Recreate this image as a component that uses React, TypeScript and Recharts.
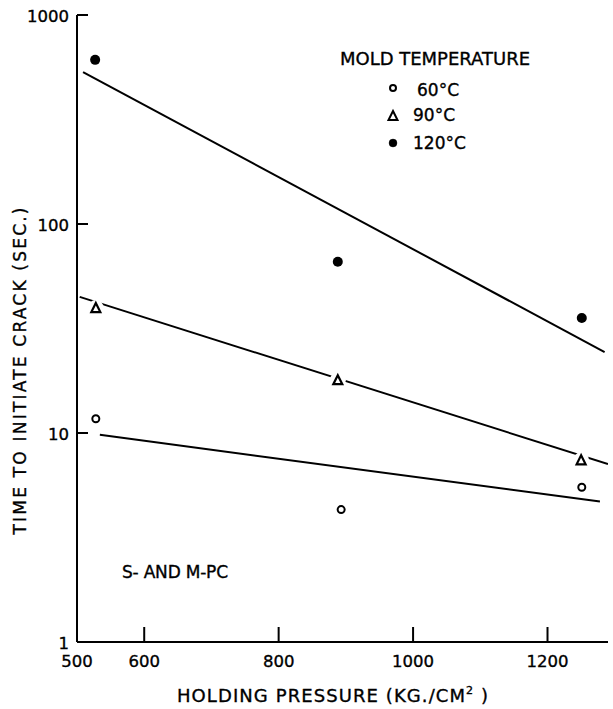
import React from 'react';
import {
  ComposedChart,
  Line,
  Scatter,
  XAxis,
  YAxis,
  Customized,
} from 'recharts';

// measured points, holding pressure vs time to crack
const pressure60 = [528, 893, 1251];
const time60 = [11.7, 4.3, 5.5];
const pressure90 = [528, 888, 1250];
const time90 = [39.6, 17.9, 7.4];
const pressure120 = [527, 888, 1251];
const time120 = [610, 66, 35.5];

// fitted lines (end points)
const fitPressure60 = [534, 1278];
const fitTime60 = [9.8, 4.7];
const fitPressure90 = [504, 1290];
const fitTime90 = [44.8, 7.1];
const fitPressure120 = [509, 1285];
const fitTime120 = [533, 24.4];

const xTicks = [500, 600, 800, 1000, 1200];
const yTicks = [1, 10, 100, 1000];
const legendLabels = ['60°C', '90°C', '120°C'];

const FONT = '"DejaVu Sans", sans-serif';
const ink = { fill: '#000', stroke: '#000', strokeWidth: 0.35 };

const toPoints = (xs: number[], ys: number[]) => xs.map((x, i) => ({ x, y: ys[i] }));

const trianglePath = (cx: number, cy: number) =>
  `M${cx},${cy - 5} L${cx + 4.5},${cy + 4} L${cx - 4.5},${cy + 4} Z`;

const OpenCircle = (props: any) => (
  <circle cx={props.cx} cy={props.cy} r={3.5} fill='#fff' stroke='#000' strokeWidth={2} />
);

const Triangle = (props: any) => (
  <g>
    <circle cx={props.cx} cy={props.cy} r={8} fill='#fff' />
    <path d={trianglePath(props.cx, props.cy)} fill='#fff' stroke='#000' strokeWidth={2.2} />
  </g>
);

const FilledCircle = (props: any) => (
  <circle cx={props.cx} cy={props.cy} r={5} fill='#000' />
);

const XTick = (props: any) => {
  const { x, y, payload } = props;
  return (
    <g>
      <line x1={x} y1={y} x2={x} y2={y - 15} stroke='#000' strokeWidth={2} />
      <text x={x} y={y + 25} textAnchor='middle' fontSize={16.5} fontFamily={FONT} {...ink}>
        {payload.value}
      </text>
    </g>
  );
};

const YTick = (props: any) => {
  const { x, y, payload } = props;
  return (
    <g>
      <line x1={x} y1={y} x2={x + 11} y2={y} stroke='#000' strokeWidth={2} />
      <text x={x - 8} y={y + 7} textAnchor='end' fontSize={16.5} fontFamily={FONT} {...ink}>
        {payload.value}
      </text>
    </g>
  );
};

const legendMarkers = [
  (cx: number, cy: number) => <circle cx={cx} cy={cy} r={3} fill='#fff' stroke='#000' strokeWidth={2} />,
  (cx: number, cy: number) => <path d={trianglePath(cx, cy)} fill='#fff' stroke='#000' strokeWidth={2} />,
  (cx: number, cy: number) => <circle cx={cx} cy={cy} r={4} fill='#000' />,
];
const legendRows = [
  { my: 88, tx: 417, ty: 96 },
  { my: 116, tx: 413, ty: 121 },
  { my: 143, tx: 413, ty: 149 },
];

const Annotations = () => (
  <g fontFamily={FONT} {...ink}>
    <text x={340} y={65} fontSize={18} textLength={190} lengthAdjust='spacing'>
      MOLD TEMPERATURE
    </text>
    {legendLabels.map((label, i) => (
      <g key={label}>
        {legendMarkers[i](393, legendRows[i].my)}
        <text x={legendRows[i].tx} y={legendRows[i].ty} fontSize={17} {...ink}>
          {label}
        </text>
      </g>
    ))}
    <text x={122} y={578} fontSize={17} textLength={106} lengthAdjust='spacing'>
      S- AND M-PC
    </text>
    <text
      x={26}
      y={371}
      fontSize={17}
      textAnchor='middle'
      transform='rotate(-90 26 371)'
      textLength={327}
      lengthAdjust='spacing'
    >
      TIME TO INITIATE CRACK (SEC.)
    </text>
    <text x={177} y={702} fontSize={18} textLength={311} lengthAdjust='spacing'>
      HOLDING PRESSURE (KG./CM
      <tspan dy={-8} fontSize={11}>2</tspan>
      <tspan dy={8}> )</tspan>
    </text>
  </g>
);

export default function App() {
  return (
    <div style={{ position: 'absolute', left: 0, top: 0, width: 613, height: 709, background: '#fff' }}>
      <ComposedChart width={613} height={709} margin={{ top: 15, right: 5, left: 0, bottom: 0 }}>
        <XAxis
          type='number'
          dataKey='x'
          domain={[500, 1290]}
          ticks={xTicks}
          height={67}
          tickSize={0}
          tickMargin={0}
          tick={<XTick />}
          axisLine={{ stroke: '#000', strokeWidth: 2 }}
          allowDataOverflow
        />
        <YAxis
          type='number'
          dataKey='y'
          scale='log'
          domain={[1, 1000]}
          ticks={yTicks}
          width={77}
          tickSize={0}
          tickMargin={0}
          tick={<YTick />}
          axisLine={{ stroke: '#000', strokeWidth: 2 }}
          allowDataOverflow
        />
        <Line data={toPoints(fitPressure120, fitTime120)} dataKey='y' stroke='#000' strokeWidth={2} dot={false} isAnimationActive={false} />
        <Line data={toPoints(fitPressure90, fitTime90)} dataKey='y' stroke='#000' strokeWidth={2} dot={false} isAnimationActive={false} />
        <Line data={toPoints(fitPressure60, fitTime60)} dataKey='y' stroke='#000' strokeWidth={2} dot={false} isAnimationActive={false} />
        <Scatter data={toPoints(pressure60, time60)} dataKey='y' shape={<OpenCircle />} isAnimationActive={false} />
        <Scatter data={toPoints(pressure90, time90)} dataKey='y' shape={<Triangle />} isAnimationActive={false} />
        <Scatter data={toPoints(pressure120, time120)} dataKey='y' shape={<FilledCircle />} isAnimationActive={false} />
        <Customized component={Annotations} />
      </ComposedChart>
    </div>
  );
}
